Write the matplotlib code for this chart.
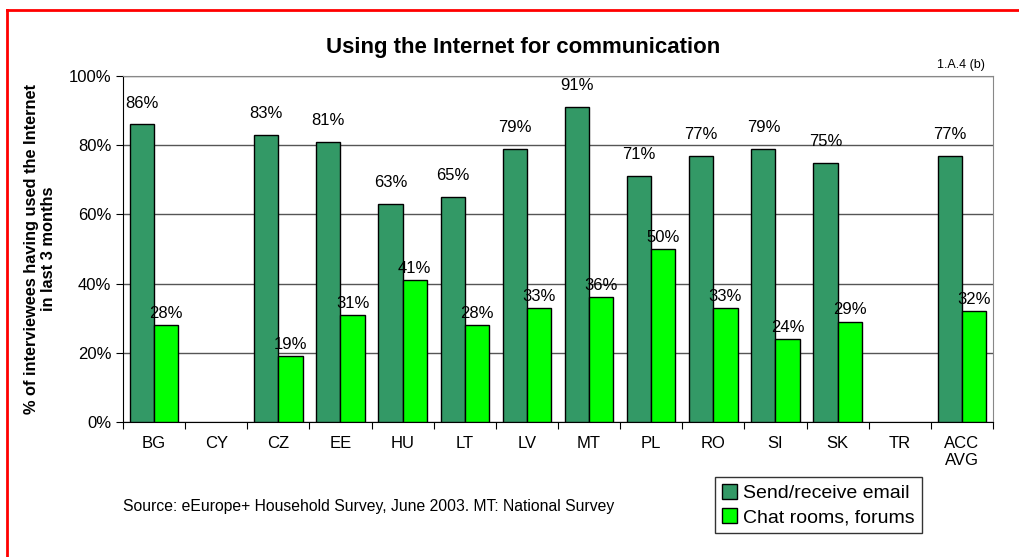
import numpy as np
import matplotlib.pyplot as plt
from matplotlib.lines import Line2D

plt.rcParams['font.family'] = ['Liberation Sans', 'DejaVu Sans']

countries = ['BG', 'CY', 'CZ', 'EE', 'HU', 'LT', 'LV', 'MT', 'PL', 'RO', 'SI', 'SK', 'TR', 'ACC\nAVG']
# None = no data for that country
email = [86, None, 83, 81, 63, 65, 79, 91, 71, 77, 79, 75, None, 77]
chat = [28, None, 19, 31, 41, 28, 33, 36, 50, 33, 24, 29, None, 32]

fig = plt.figure(figsize=(10.2, 5.57), dpi=100)
ax = fig.add_axes([123 / 1020, 1 - 422 / 557, 870 / 1020, 346 / 557])

x = np.arange(len(countries))
w = 0.39

for i in range(len(countries)):
    if email[i] is not None:
        ax.bar(x[i] - w / 2, email[i], w, color='#339966', edgecolor='black', linewidth=1, zorder=3)
        ax.annotate(f'{email[i]}%', (x[i] - w / 2, email[i]), xytext=(0, 10), textcoords='offset points',
                    ha='center', va='bottom', fontsize=12)
    if chat[i] is not None:
        ax.bar(x[i] + w / 2, chat[i], w, color='#00ff00', edgecolor='black', linewidth=1, zorder=3)
        ax.annotate(f'{chat[i]}%', (x[i] + w / 2, chat[i]), xytext=(0, 3), textcoords='offset points',
                    ha='center', va='bottom', fontsize=12)

ax.set_xlim(-0.5, len(countries) - 0.5)
ax.set_ylim(0, 100)
ax.set_yticks([0, 20, 40, 60, 80, 100])
ax.set_yticklabels([f'{v}%' for v in [0, 20, 40, 60, 80, 100]], fontsize=12)
ax.yaxis.grid(True, color='#555555', linewidth=1, zorder=0)

# categories sit between the boundary ticks
ax.set_xticks(np.arange(-0.5, len(countries)), minor=False)
ax.set_xticklabels([])
ax.set_xticks(x, minor=True)
ax.set_xticklabels(countries, minor=True, fontsize=12)
ax.tick_params(axis='x', which='minor', length=0, pad=10)
ax.tick_params(axis='x', which='major', length=5, direction='out', color='black')
ax.tick_params(axis='y', length=5, direction='out', color='black')

ax.spines['left'].set_color('black')
ax.spines['bottom'].set_color('black')
ax.spines['top'].set_color('#888888')
ax.spines['right'].set_color('#888888')

ax.set_ylabel('% of interviewees having used the Internet\nin last 3 months', fontsize=11.8,
              fontweight='bold', labelpad=9)

fig.text(523 / 1020, 1 - 47 / 557, 'Using the Internet for communication', ha='center', va='center',
         fontsize=16, fontweight='bold')
fig.text(985 / 1020, 1 - 65 / 557, '1.A.4 (b)', ha='right', va='center', fontsize=9)
fig.text(123 / 1020, 1 - 506 / 557, 'Source: eEurope+ Household Survey, June 2003. MT: National Survey',
         ha='left', va='center', fontsize=11.3)

handles = [plt.Rectangle((0, 0), 1, 1, facecolor='#339966', edgecolor='black'),
           plt.Rectangle((0, 0), 1, 1, facecolor='#00ff00', edgecolor='black')]
leg = fig.legend(handles, ['Send/receive email', 'Chat rooms, forums'], loc='upper left',
                 bbox_to_anchor=(715 / 1020, 1 - 477 / 557), fontsize=14, frameon=True, fancybox=False,
                 edgecolor='black', handlelength=0.8, handleheight=0.8, handletextpad=0.3,
                 borderpad=0.35, labelspacing=0.3, borderaxespad=0)
leg.get_frame().set_linewidth(1)

# red frame along the top and left edges
fig.add_artist(Line2D([7 / 1020, 1], [1 - 10 / 557, 1 - 10 / 557], color='red', linewidth=2,
                      transform=fig.transFigure))
fig.add_artist(Line2D([7 / 1020, 7 / 1020], [1 - 10 / 557, 0], color='red', linewidth=2,
                      transform=fig.transFigure))

fig.savefig('out.png', dpi=100)
